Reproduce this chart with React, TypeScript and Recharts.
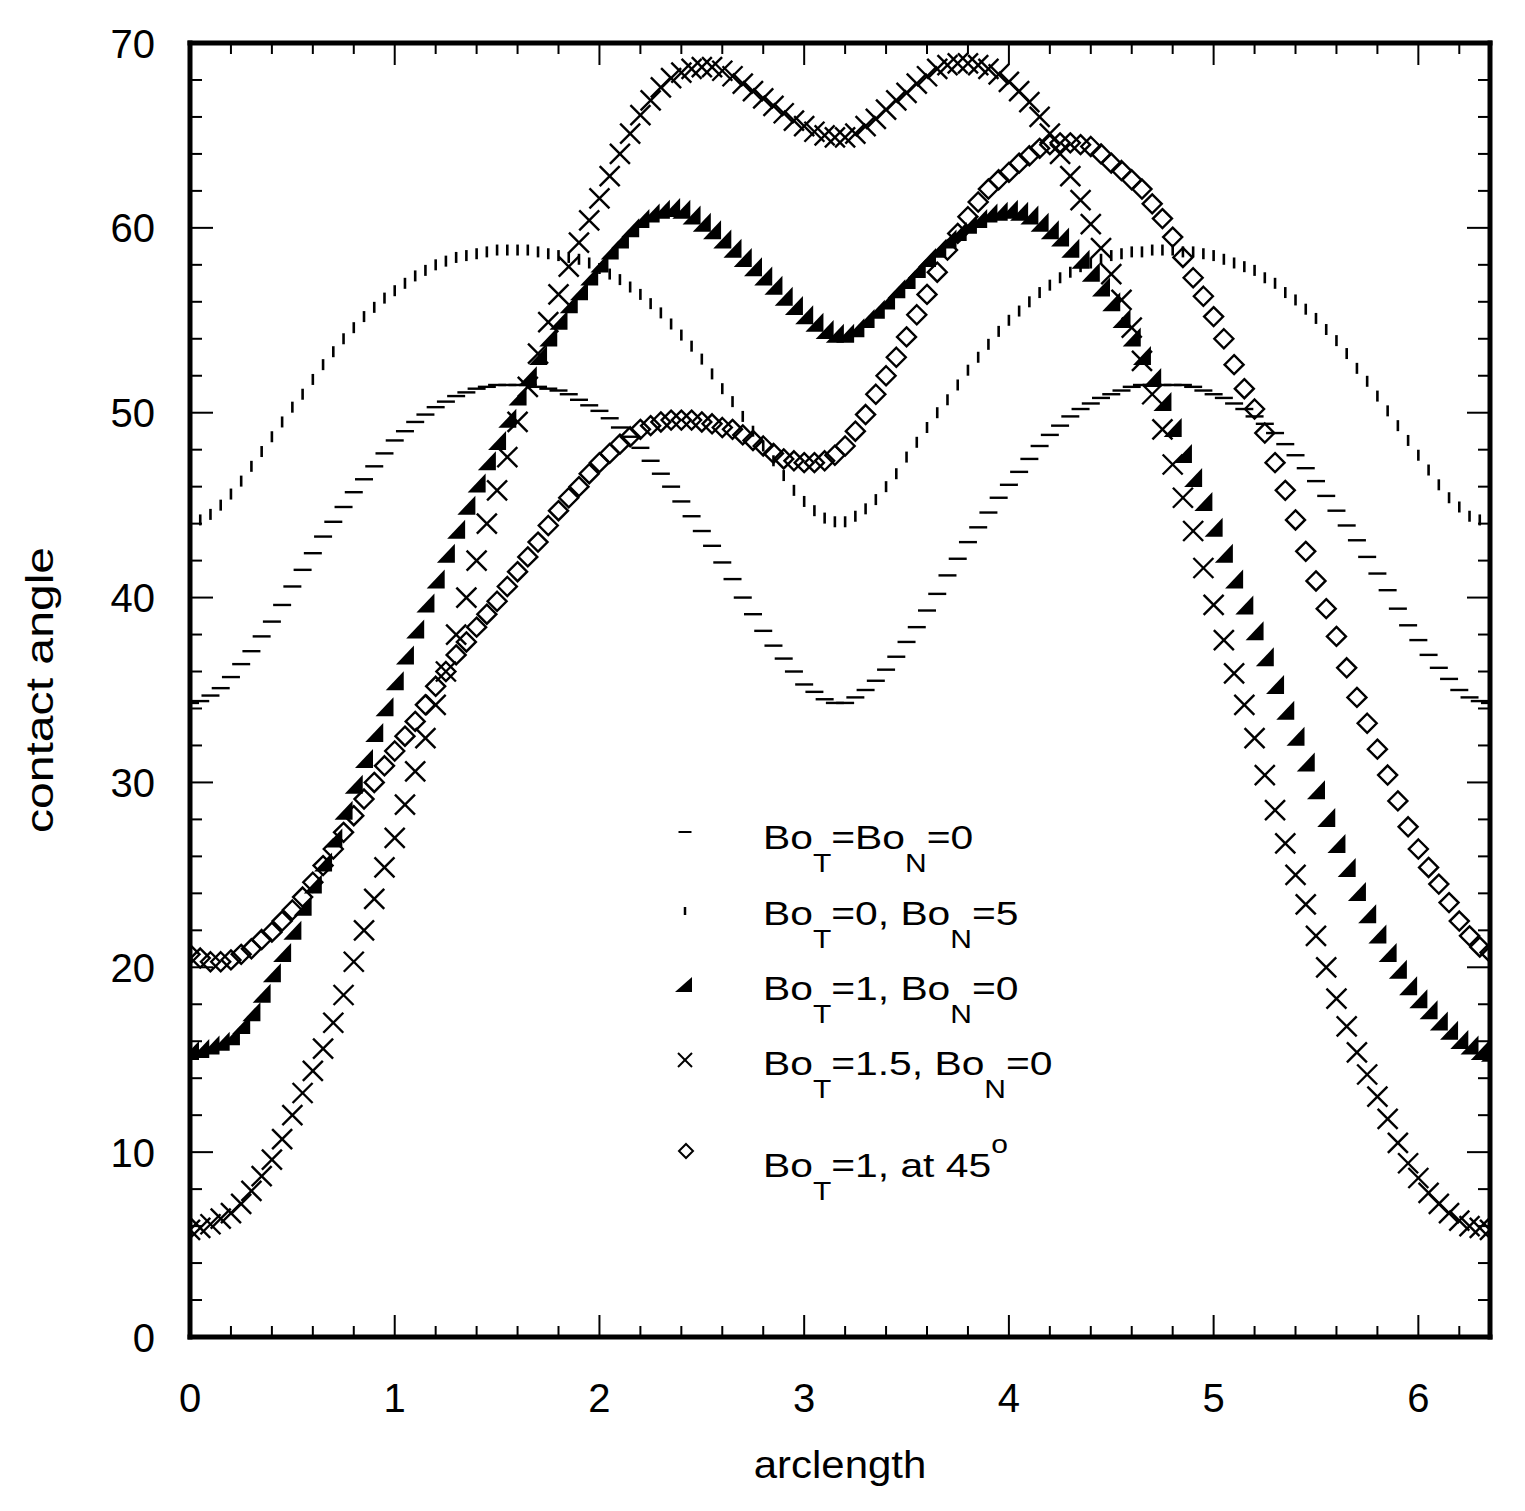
import React from "react";
import { ScatterChart, Scatter, XAxis, YAxis, Legend } from "recharts";

// arclength sample positions
const arclength = [
  0, 0.05, 0.1, 0.15, 0.2, 0.25, 0.3, 0.35, 0.4, 0.45,
  0.5, 0.55, 0.6, 0.65, 0.7, 0.75, 0.8, 0.85, 0.9, 0.95,
  1, 1.05, 1.1, 1.15, 1.2, 1.25, 1.3, 1.35, 1.4, 1.45,
  1.5, 1.55, 1.6, 1.65, 1.7, 1.75, 1.8, 1.85, 1.9, 1.95,
  2, 2.05, 2.1, 2.15, 2.2, 2.25, 2.3, 2.35, 2.4, 2.45,
  2.5, 2.55, 2.6, 2.65, 2.7, 2.75, 2.8, 2.85, 2.9, 2.95,
  3, 3.05, 3.1, 3.15, 3.2, 3.25, 3.3, 3.35, 3.4, 3.45,
  3.5, 3.55, 3.6, 3.65, 3.7, 3.75, 3.8, 3.85, 3.9, 3.95,
  4, 4.05, 4.1, 4.15, 4.2, 4.25, 4.3, 4.35, 4.4, 4.45,
  4.5, 4.55, 4.6, 4.65, 4.7, 4.75, 4.8, 4.85, 4.9, 4.95,
  5, 5.05, 5.1, 5.15, 5.2, 5.25, 5.3, 5.35, 5.4, 5.45,
  5.5, 5.55, 5.6, 5.65, 5.7, 5.75, 5.8, 5.85, 5.9, 5.95,
  6, 6.05, 6.1, 6.15, 6.2, 6.25, 6.3, 6.35,
];

// Bo_T = Bo_N = 0
const boT0N0 = [
  34.3, 34.4, 34.7, 35.1, 35.7, 36.4, 37.1, 37.9, 38.7, 39.6,
  40.6, 41.5, 42.4, 43.3, 44.1, 44.9, 45.7, 46.4, 47.1, 47.8,
  48.5, 49.0, 49.5, 49.9, 50.3, 50.6, 50.9, 51.1, 51.3, 51.4,
  51.5, 51.5, 51.5, 51.5, 51.4, 51.3, 51.2, 51.0, 50.7, 50.4,
  50.1, 49.7, 49.2, 48.7, 48.1, 47.4, 46.7, 46.0, 45.2, 44.4,
  43.6, 42.8, 41.9, 41.0, 40.0, 39.1, 38.2, 37.4, 36.7, 36.0,
  35.3, 34.9, 34.5, 34.3, 34.3, 34.6, 35.0, 35.5, 36.1, 36.8,
  37.6, 38.4, 39.3, 40.2, 41.2, 42.1, 43.0, 43.8, 44.6, 45.4,
  46.1, 46.8, 47.5, 48.2, 48.8, 49.3, 49.8, 50.2, 50.5, 50.8,
  51.0, 51.2, 51.4, 51.5, 51.5, 51.5, 51.5, 51.5, 51.4, 51.2,
  51.0, 50.8, 50.5, 50.2, 49.8, 49.4, 48.9, 48.3, 47.7, 47.0,
  46.3, 45.5, 44.7, 43.9, 43.1, 42.2, 41.3, 40.4, 39.4, 38.5,
  37.7, 36.9, 36.2, 35.6, 35.0, 34.6, 34.4, 34.3,
];

// Bo_T = 0, Bo_N = 5
const boT0N5 = [
  44.1, 44.2, 44.5, 45.0, 45.6, 46.3, 47.1, 47.9, 48.7, 49.5,
  50.3, 51.0, 51.8, 52.6, 53.3, 54.0, 54.6, 55.2, 55.7, 56.2,
  56.6, 57.0, 57.4, 57.7, 58.0, 58.2, 58.4, 58.5, 58.6, 58.7,
  58.8, 58.8, 58.8, 58.8, 58.7, 58.6, 58.5, 58.4, 58.3, 58.1,
  57.8, 57.5, 57.2, 56.8, 56.4, 55.9, 55.4, 54.8, 54.2, 53.6,
  52.9, 52.1, 51.3, 50.6, 49.8, 49.0, 48.2, 47.4, 46.6, 45.8,
  45.2, 44.7, 44.3, 44.1, 44.1, 44.4, 44.8, 45.3, 46.0, 46.7,
  47.6, 48.4, 49.2, 50.0, 50.7, 51.5, 52.3, 53.0, 53.7, 54.4,
  55.0, 55.5, 56.0, 56.5, 56.9, 57.3, 57.6, 57.9, 58.1, 58.3,
  58.5, 58.6, 58.7, 58.7, 58.8, 58.8, 58.8, 58.7, 58.7, 58.6,
  58.5, 58.3, 58.1, 57.9, 57.7, 57.3, 57.0, 56.5, 56.1, 55.6,
  55.1, 54.5, 53.9, 53.2, 52.4, 51.7, 50.9, 50.1, 49.3, 48.5,
  47.7, 46.9, 46.1, 45.4, 44.9, 44.4, 44.2, 44.1,
];

// Bo_T = 1, Bo_N = 0
const boT1N0 = [
  15.5, 15.6, 15.8, 16.0, 16.3, 16.9, 17.6, 18.6, 19.7, 20.8,
  22.0, 23.3, 24.5, 25.7, 27.0, 28.5, 29.9, 31.3, 32.7, 34.1,
  35.5, 36.9, 38.3, 39.7, 41.0, 42.4, 43.7, 45.0, 46.2, 47.4,
  48.5, 49.7, 50.9, 52.0, 53.1, 54.1, 55.0, 55.9, 56.6, 57.4,
  58.1, 58.8, 59.4, 60.0, 60.5, 60.8, 61.0, 61.1, 61.0, 60.7,
  60.3, 59.9, 59.4, 58.9, 58.4, 57.9, 57.4, 56.9, 56.3, 55.8,
  55.3, 54.9, 54.5, 54.3, 54.3, 54.6, 55.1, 55.6, 56.1, 56.7,
  57.2, 57.8, 58.4, 58.9, 59.4, 59.8, 60.2, 60.5, 60.8, 60.9,
  61.0, 60.9, 60.7, 60.3, 59.9, 59.5, 58.9, 58.3, 57.6, 56.8,
  56.0, 55.1, 54.1, 53.1, 51.9, 50.6, 49.2, 47.8, 46.5, 45.2,
  43.8, 42.4, 41.0, 39.6, 38.2, 36.8, 35.3, 33.9, 32.5, 31.1,
  29.6, 28.1, 26.7, 25.4, 24.1, 22.9, 21.8, 20.8, 19.9, 19.0,
  18.3, 17.7, 17.1, 16.6, 16.1, 15.8, 15.5, 15.4,
];

// Bo_T = 1.5, Bo_N = 0
const boT15N0 = [
  5.8, 5.9, 6.1, 6.4, 6.7, 7.2, 7.9, 8.7, 9.6, 10.7,
  12.0, 13.2, 14.4, 15.6, 17.0, 18.5, 20.3, 22.0, 23.7, 25.4,
  27.0, 28.8, 30.6, 32.4, 34.2, 36.0, 38.0, 40.0, 42.0, 44.0,
  45.8, 47.6, 49.5, 51.4, 53.2, 54.9, 56.4, 57.9, 59.2, 60.4,
  61.6, 62.8, 64.0, 65.1, 66.1, 66.9, 67.6, 68.1, 68.4, 68.6,
  68.7, 68.7, 68.5, 68.2, 67.8, 67.4, 67.0, 66.6, 66.2, 65.8,
  65.5, 65.2, 65.0, 64.9, 64.9, 65.1, 65.5, 65.9, 66.4, 66.9,
  67.3, 67.8, 68.2, 68.6, 68.8, 68.9, 68.9, 68.8, 68.6, 68.3,
  67.9, 67.4, 66.8, 66.0, 65.1, 64.0, 62.8, 61.5, 60.2, 58.9,
  57.5, 56.1, 54.6, 52.8, 51.0, 49.1, 47.2, 45.4, 43.6, 41.6,
  39.6, 37.7, 35.9, 34.2, 32.4, 30.4, 28.5, 26.7, 25.0, 23.4,
  21.7, 20.0, 18.3, 16.8, 15.4, 14.2, 13.0, 11.8, 10.5, 9.4,
  8.6, 7.8, 7.2, 6.7, 6.3, 6.0, 5.9, 5.8,
];

// Bo_T = 1, at 45 degrees
const boT1at45 = [
  20.7, 20.5, 20.3, 20.3, 20.4, 20.7, 21.0, 21.5, 21.9, 22.5,
  23.1, 23.8, 24.6, 25.5, 26.4, 27.3, 28.2, 29.1, 30.0, 30.9,
  31.7, 32.5, 33.3, 34.2, 35.2, 36.0, 36.9, 37.6, 38.4, 39.1,
  39.8, 40.6, 41.4, 42.2, 43.0, 43.9, 44.7, 45.4, 46.0, 46.7,
  47.3, 47.8, 48.3, 48.7, 49.1, 49.3, 49.5, 49.6, 49.6, 49.6,
  49.5, 49.4, 49.2, 49.1, 48.8, 48.5, 48.2, 47.8, 47.5, 47.4,
  47.3, 47.3, 47.4, 47.7, 48.2, 49.0, 49.9, 51.0, 52.0, 53.0,
  54.1, 55.3, 56.4, 57.6, 58.8, 59.7, 60.6, 61.4, 62.1, 62.6,
  63.0, 63.5, 63.9, 64.3, 64.5, 64.6, 64.6, 64.5, 64.4, 64.0,
  63.5, 63.1, 62.6, 62.1, 61.3, 60.5, 59.5, 58.4, 57.3, 56.3,
  55.2, 54.0, 52.6, 51.3, 50.2, 48.9, 47.3, 45.8, 44.2, 42.5,
  40.9, 39.4, 37.9, 36.2, 34.6, 33.2, 31.8, 30.4, 29.0, 27.6,
  26.4, 25.4, 24.5, 23.5, 22.5, 21.7, 21.1, 20.8,
];

const xTicks = [
  0, 0.2, 0.4, 0.6, 0.8, 1, 1.2, 1.4, 1.6, 1.8, 2, 2.2, 2.4, 2.6, 2.8, 3,
  3.2, 3.4, 3.6, 3.8, 4, 4.2, 4.4, 4.6, 4.8, 5, 5.2, 5.4, 5.6, 5.8, 6, 6.2,
];
const yTicks = [
  0, 2, 4, 6, 8, 10, 12, 14, 16, 18, 20, 22, 24, 26, 28, 30, 32, 34, 36,
  38, 40, 42, 44, 46, 48, 50, 52, 54, 56, 58, 60, 62, 64, 66, 68, 70,
];

const FONT = "'Liberation Sans', Arial, Helvetica, sans-serif";
const INK = "#000";

const toRows = (vals: number[]) => arclength.map((s, i) => ({ s, v: vals[i] }));
const rowsA = toRows(boT0N0);
const rowsB = toRows(boT0N5);
const rowsC = toRows(boT1N0);
const rowsD = toRows(boT15N0);
const rowsE = toRows(boT1at45);

const isMajor = (v: number, step: number) =>
  Math.abs(v / step - Math.round(v / step)) < 1e-6;

function BottomTick(p: any) {
  const v = p.payload.value;
  const major = isMajor(v, 1);
  return (
    <g>
      <line x1={p.x} x2={p.x} y1={p.y} y2={p.y - (major ? 22 : 11)} stroke={INK} strokeWidth={2} />
      {major ? (
        <text x={p.x} y={p.y + 75} textAnchor="middle" fontSize={40} fontFamily={FONT} fill={INK}>
          {Math.round(v)}
        </text>
      ) : null}
    </g>
  );
}

function TopTick(p: any) {
  const v = p.payload.value;
  const major = isMajor(v, 1);
  return <line x1={p.x} x2={p.x} y1={p.y} y2={p.y + (major ? 22 : 11)} stroke={INK} strokeWidth={2} />;
}

function LeftTick(p: any) {
  const v = p.payload.value;
  const major = isMajor(v, 10);
  return (
    <g>
      <line x1={p.x} x2={p.x + (major ? 23 : 12)} y1={p.y} y2={p.y} stroke={INK} strokeWidth={2} />
      {major ? (
        <text x={p.x - 35} y={p.y + 14.5} textAnchor="end" fontSize={40} fontFamily={FONT} fill={INK}>
          {Math.round(v)}
        </text>
      ) : null}
    </g>
  );
}

function RightTick(p: any) {
  const v = p.payload.value;
  const major = isMajor(v, 10);
  return <line x1={p.x} x2={p.x - (major ? 23 : 12)} y1={p.y} y2={p.y} stroke={INK} strokeWidth={2} />;
}

const DashShape = (p: any) => (
  <line x1={p.cx - 9} x2={p.cx + 9} y1={p.cy} y2={p.cy} stroke={INK} strokeWidth={2.4} />
);
const TickShape = (p: any) => (
  <line x1={p.cx} x2={p.cx} y1={p.cy - 5.5} y2={p.cy + 5.5} stroke={INK} strokeWidth={2.6} />
);
const TriShape = (p: any) => (
  <polygon
    points={`${p.cx - 9},${p.cy + 9.5} ${p.cx + 9},${p.cy + 9.5} ${p.cx + 9},${p.cy - 9.5}`}
    fill={INK}
  />
);
const CrossShape = (p: any) => (
  <g stroke={INK} strokeWidth={2.4}>
    <line x1={p.cx - 10} y1={p.cy - 10} x2={p.cx + 10} y2={p.cy + 10} />
    <line x1={p.cx - 10} y1={p.cy + 10} x2={p.cx + 10} y2={p.cy - 10} />
  </g>
);
const DiamondShape = (p: any) => (
  <polygon
    points={`${p.cx},${p.cy - 9.5} ${p.cx + 9.5},${p.cy} ${p.cx},${p.cy + 9.5} ${p.cx - 9.5},${p.cy}`}
    fill="none"
    stroke={INK}
    strokeWidth={2.4}
  />
);
const NoShape = () => <g />;

function XTitle(props: any) {
  const vb = props.viewBox || { x: 182, y: 1329, width: 1300, height: 166 };
  const cx = vb.x + vb.width / 2;
  const y = vb.y + 141;
  return (
    <text
      transform={`translate(${cx},${y}) scale(1.09,1)`}
      textAnchor="middle"
      fontSize={38.5}
      fontFamily={FONT}
      fill={INK}
    >
      arclength
    </text>
  );
}

function YTitle(props: any) {
  const vb = props.viewBox || { x: 0, y: 35, width: 182, height: 1294 };
  const cy = vb.y + vb.height / 2;
  const x = vb.x + 45;
  return (
    <text
      transform={`translate(${x},${cy}) rotate(-90) scale(1.25,1)`}
      textAnchor="middle"
      fontSize={38.5}
      fontFamily={FONT}
      fill={INK}
    >
      contact angle
    </text>
  );
}

type Part = [string, "n" | "sub" | "sup"];

function LegendLabel({ y, parts }: { y: number; parts: Part[] }) {
  let shift = 0;
  const spans = parts.map(([t, k], i) => {
    const target = k === "sub" ? 23 : k === "sup" ? -24 : 0;
    const dy = target - shift;
    shift = target;
    return (
      <tspan key={i} dy={dy} fontSize={k === "n" ? 34 : 25}>
        {t}
      </tspan>
    );
  });
  return (
    <g transform={`translate(95,${y}) scale(1.2,1)`}>
      <text x={0} y={0} fontFamily={FONT} fill={INK}>
        {spans}
      </text>
    </g>
  );
}

function LegendBox() {
  return (
    <svg width={440} height={400} style={{ display: "block", overflow: "visible" }}>
      <line x1={10.5} x2={23.5} y1={34} y2={34} stroke={INK} strokeWidth={2} />
      <LegendLabel y={51} parts={[["Bo", "n"], ["T", "sub"], ["=Bo", "n"], ["N", "sub"], ["=0", "n"]]} />

      <line x1={17} x2={17} y1={109} y2={117} stroke={INK} strokeWidth={2.5} />
      <LegendLabel y={127} parts={[["Bo", "n"], ["T", "sub"], ["=0, Bo", "n"], ["N", "sub"], ["=5", "n"]]} />

      <polygon points="7,194 24,194 24,179" fill={INK} />
      <LegendLabel y={202} parts={[["Bo", "n"], ["T", "sub"], ["=1, Bo", "n"], ["N", "sub"], ["=0", "n"]]} />

      <g stroke={INK} strokeWidth={2}>
        <line x1={10} y1={255} x2={24} y2={269} />
        <line x1={10} y1={269} x2={24} y2={255} />
      </g>
      <LegendLabel y={277} parts={[["Bo", "n"], ["T", "sub"], ["=1.5, Bo", "n"], ["N", "sub"], ["=0", "n"]]} />

      <polygon points="18,346 25,353 18,360 11,353" fill="none" stroke={INK} strokeWidth={2} />
      <LegendLabel y={379} parts={[["Bo", "n"], ["T", "sub"], ["=1, at 45", "n"], ["o", "sup"]]} />
    </svg>
  );
}

const axisLineStyle = { stroke: INK, strokeWidth: 5, strokeLinecap: "square" as const };

export default function App() {
  return (
    <div style={{ width: 1509, height: 1495, background: "#fff" }}>
      <ScatterChart width={1509} height={1495} margin={{ top: 0, right: 0, bottom: 0, left: 0 }}>
        <XAxis
          xAxisId="b"
          type="number"
          dataKey="s"
          domain={[0, 6.35]}
          ticks={xTicks}
          interval={0}
          orientation="bottom"
          height={166}
          tickSize={0}
          tickMargin={0}
          tickLine={false}
          tick={BottomTick}
          axisLine={axisLineStyle}
          allowDataOverflow
          label={{ content: XTitle }}
        />
        <XAxis
          xAxisId="t"
          type="number"
          dataKey="s"
          domain={[0, 6.35]}
          ticks={xTicks}
          interval={0}
          orientation="top"
          height={35}
          tickSize={0}
          tickMargin={0}
          tickLine={false}
          tick={TopTick}
          axisLine={axisLineStyle}
          allowDataOverflow
        />
        <YAxis
          yAxisId="l"
          type="number"
          dataKey="v"
          domain={[0, 70]}
          ticks={yTicks}
          interval={0}
          orientation="left"
          width={182}
          tickSize={0}
          tickMargin={0}
          tickLine={false}
          tick={LeftTick}
          axisLine={axisLineStyle}
          allowDataOverflow
          label={{ content: YTitle }}
        />
        <YAxis
          yAxisId="r"
          type="number"
          dataKey="v"
          domain={[0, 70]}
          ticks={yTicks}
          interval={0}
          orientation="right"
          width={27}
          tickSize={0}
          tickMargin={0}
          tickLine={false}
          tick={RightTick}
          axisLine={axisLineStyle}
          allowDataOverflow
        />
        <Scatter name="frame" data={rowsA} xAxisId="t" yAxisId="r" shape={NoShape} isAnimationActive={false} legendType="none" />
        <Scatter name="BoT=BoN=0" data={rowsA} xAxisId="b" yAxisId="l" shape={DashShape} isAnimationActive={false} />
        <Scatter name="BoT=0, BoN=5" data={rowsB} xAxisId="b" yAxisId="l" shape={TickShape} isAnimationActive={false} />
        <Scatter name="BoT=1, BoN=0" data={rowsC} xAxisId="b" yAxisId="l" shape={TriShape} isAnimationActive={false} />
        <Scatter name="BoT=1.5, BoN=0" data={rowsD} xAxisId="b" yAxisId="l" shape={CrossShape} isAnimationActive={false} />
        <Scatter name="BoT=1, at 45" data={rowsE} xAxisId="b" yAxisId="l" shape={DiamondShape} isAnimationActive={false} />
        <Legend
          content={() => <LegendBox />}
          layout="horizontal"
          verticalAlign="middle"
          align="center"
          wrapperStyle={{ left: 660, top: 790, width: 440, height: 400 }}
        />
      </ScatterChart>
    </div>
  );
}
